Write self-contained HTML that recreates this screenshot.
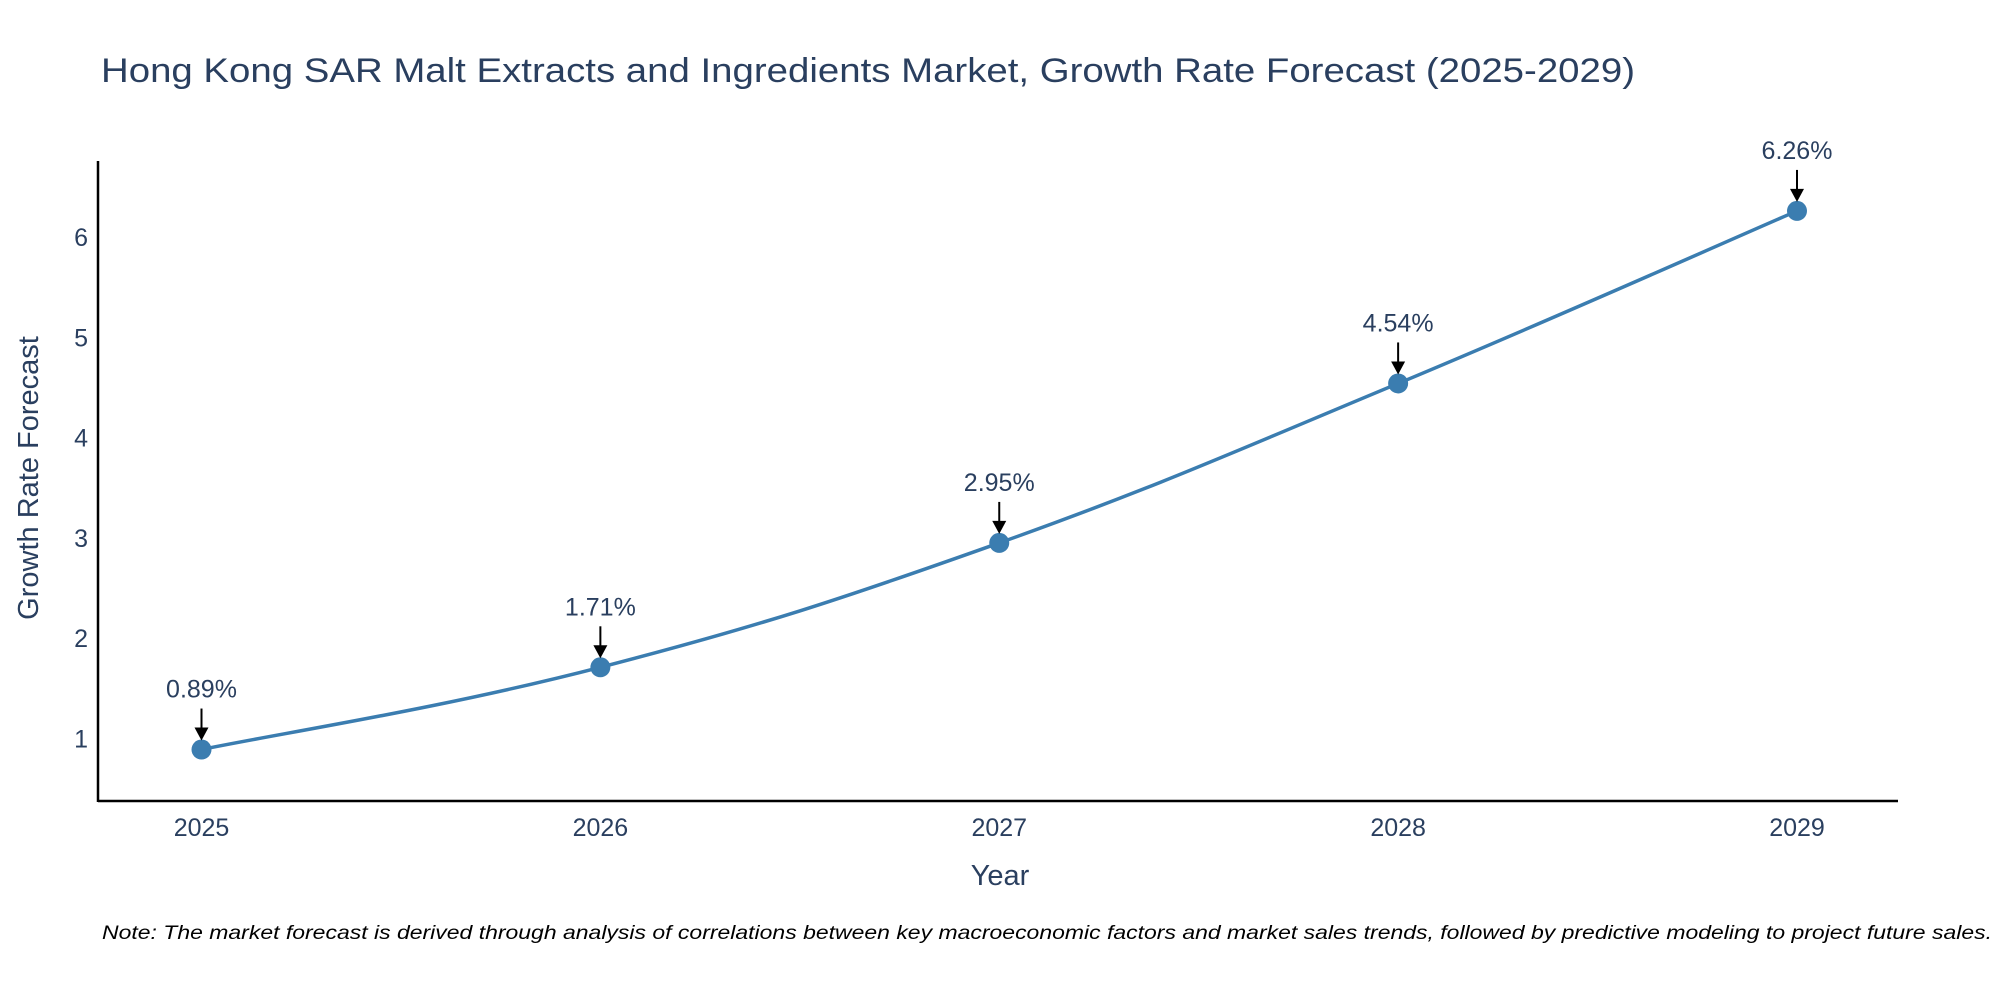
<!DOCTYPE html>
<html><head><meta charset="utf-8"><style>
body{margin:0;background:#fff}
svg{display:block;font-family:"Liberation Sans","DejaVu Sans",sans-serif}
</style></head><body>
<svg id="chart" width="2000" height="1000" xmlns="http://www.w3.org/2000/svg">
<text x="101" y="82" font-size="34" fill="#2a3f5f" textLength="1534" lengthAdjust="spacingAndGlyphs">Hong Kong SAR Malt Extracts and Ingredients Market, Growth Rate Forecast (2025-2029)</text>
<g id="axes"></g>
<g id="series"></g>
<text transform="translate(38,478) rotate(-90)" text-anchor="middle" font-size="29" fill="#2a3f5f">Growth Rate Forecast</text>
<text x="1000" y="885" text-anchor="middle" font-size="29" fill="#2a3f5f">Year</text>
<text x="102" y="939" font-size="19" font-style="italic" fill="#000" textLength="1890" lengthAdjust="spacingAndGlyphs">Note: The market forecast is derived through analysis of correlations between key macroeconomic factors and market sales trends, followed by predictive modeling to project future sales.</text>
</svg>
<script>
const years = ["2025","2026","2027","2028","2029"];
const growth = [0.89, 1.71, 2.95, 4.54, 6.26];
const yTicks = [1,2,3,4,5,6];
const labels = ["0.89%","1.71%","2.95%","4.54%","6.26%"];

const NS="http://www.w3.org/2000/svg";
const X0=201.5,X1=1797,L=98,R=1898,B=801,T=161;
const xs=i=>X0+(X1-X0)*i/(years.length-1);
const ys=v=>738.5-(v-1)*100.3;
function mk(tag,attrs,parent){const e=document.createElementNS(NS,tag);for(const k in attrs)e.setAttribute(k,attrs[k]);parent.appendChild(e);return e;}
const ax=document.getElementById('axes'),se=document.getElementById('series');
let e=mk('line',{x1:L,y1:B,x2:R,y2:B,stroke:'#000','stroke-width':2.5},ax);


e=mk('line',{x1:L,y1:T,x2:L,y2:B+1,stroke:'#000','stroke-width':2.5},ax);


years.forEach((y,i)=>{const t=mk('text',{x:xs(i),y:836,'text-anchor':'middle','font-size':25,fill:'#2a3f5f'},ax);t.textContent=y;

});
yTicks.forEach(v=>{const t=mk('text',{x:88,y:ys(v)+9,'text-anchor':'end','font-size':25,fill:'#2a3f5f'},ax);t.textContent=v;

});
const P=growth.map((v,i)=>[xs(i),ys(v)]);
let d=`M${P[0][0]},${P[0][1]}`;const s=0.2;
for(let i=0;i<P.length-1;i++){const p0=P[Math.max(i-1,0)],p1=P[i],p2=P[i+1],p3=P[Math.min(i+2,P.length-1)];
d+=` C${p1[0]+(p2[0]-p0[0])*s},${p1[1]+(p2[1]-p0[1])*s} ${p2[0]-(p3[0]-p1[0])*s},${p2[1]-(p3[1]-p1[1])*s} ${p2[0]},${p2[1]}`;}
e=mk('path',{d:d,fill:'none',stroke:'#3b7db0','stroke-width':3.5},se);


growth.forEach((v,i)=>{const x=xs(i),y=ys(v);
const c=mk('circle',{cx:x,cy:y,r:10,fill:'#3b7db0'},se);


const l=mk('line',{x1:x,y1:y-41,x2:x,y2:y-20,stroke:'#000','stroke-width':2},se);


const a=mk('polygon',{points:`${x-7},${y-22} ${x+7},${y-22} ${x},${y-9}`,fill:'#000'},se);


const t=mk('text',{x:x,y:y-52,'text-anchor':'middle','font-size':25,fill:'#2a3f5f'},se);t.textContent=labels[i];

});
</script>
</body></html>
